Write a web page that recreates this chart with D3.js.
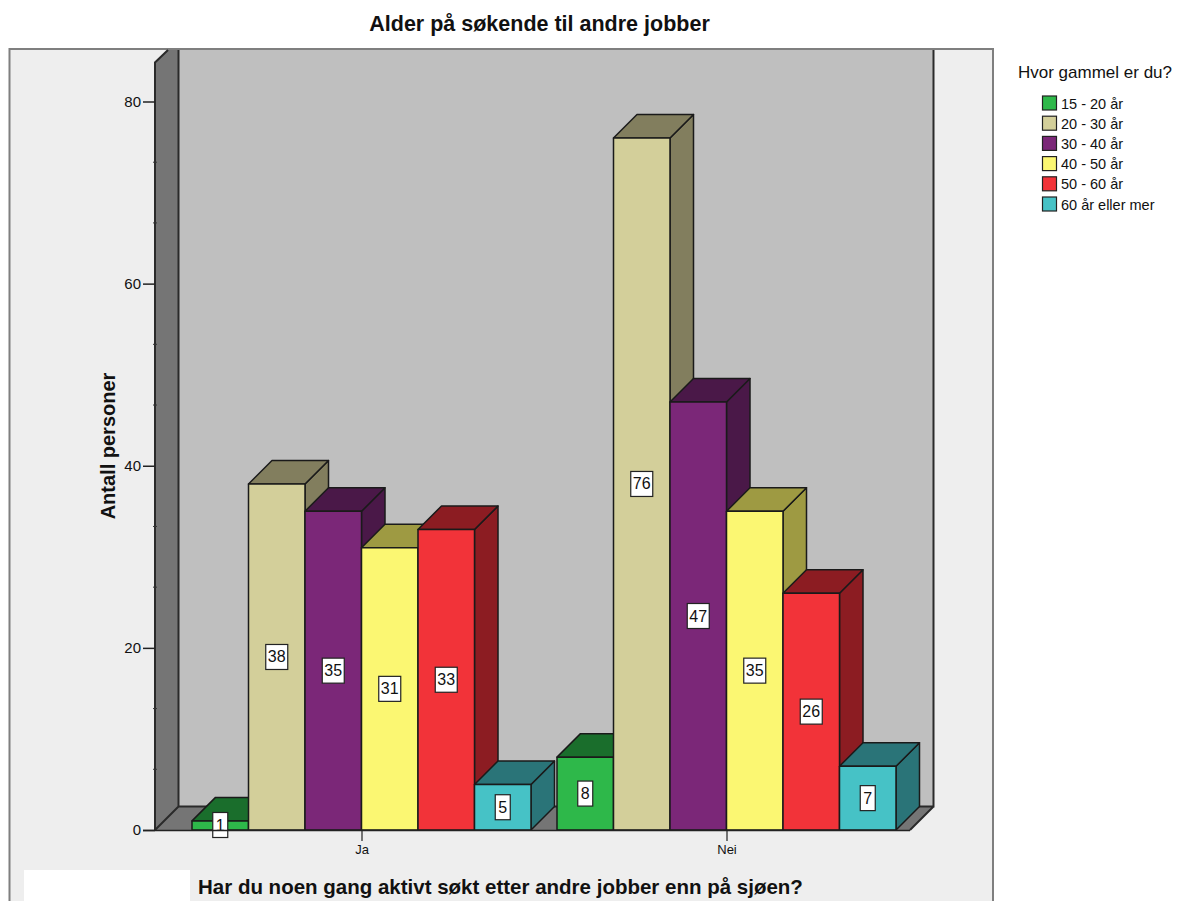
<!DOCTYPE html>
<html>
<head>
<meta charset="utf-8">
<script src="https://cdn.jsdelivr.net/npm/d3@7"></script>
<style>
html,body{margin:0;padding:0;background:#fff;}
svg{display:block;}
text{font-family:"Liberation Sans",Arial,sans-serif;fill:#111;}
</style>
</head>
<body>
<svg id="chart" width="1199" height="901"></svg>
<script>
// Values per answer group, one entry per age band
const groups = ["Ja", "Nei"];
const ageBands = ["15 - 20 år", "20 - 30 år", "30 - 40 år", "40 - 50 år", "50 - 60 år", "60 år eller mer"];
const jaValues = [1, 38, 35, 31, 33, 5];
const neiValues = [8, 76, 47, 35, 26, 7];
const yTicks = [0, 20, 40, 60, 80];
const yMinorTicks = [20 / 3, 40 / 3, 80 / 3, 100 / 3, 140 / 3, 160 / 3, 200 / 3, 220 / 3];
const frontColors = ["#2eb84a", "#d3cf9a", "#7b2778", "#fbf772", "#f23339", "#46c2c6"];
const shadeColors = ["#1a6e2c", "#827e5e", "#4a1848", "#9e9a42", "#8c1c22", "#2a7478"];

const svg = d3.select("#chart");

// Layout of the box: front floor edge, wall depth and bar depth
const floorY = 830, frontLeft = 155, frontRight = 910;
const wallDepth = 23.5, barDepth = 23.5, panelTop = 49;

const y = d3.scaleLinear().domain([0, 80]).range([floorY, 101.5]);
const groupX = d3.scalePoint().domain(groups).range([361.5, 726.5]);
const barX = d3.scaleBand().domain(ageBands).range([-169.5, 169.5]);
const front = d3.scaleOrdinal().domain(ageBands).range(frontColors);
const shade = d3.scaleOrdinal().domain(ageBands).range(shadeColors);
const valuesByGroup = new Map([["Ja", jaValues], ["Nei", neiValues]]);

const poly = pts => pts.map(p => p.join(",")).join(" ");

// Outer panel, clipped by the page bottom
svg.append("rect").attr("x", 9.5).attr("y", panelTop).attr("width", 983.5).attr("height", 870)
  .attr("fill", "#eeeeee").attr("stroke", "#7f7f7f").attr("stroke-width", 2);
svg.append("rect").attr("x", 24).attr("y", 870).attr("width", 166).attr("height", 31).attr("fill", "#fff");

// Back wall, side wall and floor
const backLeft = frontLeft + wallDepth, backRight = frontRight + wallDepth, backY = floorY - wallDepth;
svg.append("rect").attr("x", backLeft).attr("y", panelTop + 1).attr("width", backRight - backLeft).attr("height", backY - panelTop - 1)
  .attr("fill", "#bfbfbf");
svg.append("polygon")
  .attr("points", poly([[frontLeft, floorY], [frontLeft, panelTop + wallDepth - 10], [frontLeft + 13, panelTop + 1], [backLeft, panelTop + 1], [backLeft, backY]]))
  .attr("fill", "#757575");
svg.append("polygon")
  .attr("points", poly([[frontLeft, floorY], [frontRight, floorY], [backRight, backY], [backLeft, backY]]))
  .attr("fill", "#757575");
svg.append("path")
  .attr("d", `M${frontLeft},${floorY}V${panelTop + wallDepth - 10}L${frontLeft + 13},${panelTop + 1}`
    + `M${backLeft},${panelTop + 1}V${backY}H${backRight}V${panelTop + 1}`
    + `M${frontLeft},${floorY}L${backLeft},${backY}M${frontRight},${floorY}L${backRight},${backY}`)
  .attr("fill", "none").attr("stroke", "#2a2a2a").attr("stroke-width", 2);

// Bars, drawn left to right so each one overlaps the side of its neighbour
const bars = groups.flatMap(g => ageBands.map((band, i) => ({ g, band, value: valuesByGroup.get(g)[i] })));
const barG = svg.append("g").attr("stroke", "#1a1a1a").attr("stroke-width", 1.5).attr("stroke-linejoin", "round");
bars.forEach(d => {
  const x0 = groupX(d.g) + barX(d.band), x1 = x0 + barX.bandwidth(), top = y(d.value);
  barG.append("polygon")
    .attr("points", poly([[x1, floorY], [x1 + barDepth, floorY - barDepth], [x1 + barDepth, top - barDepth], [x1, top]]))
    .attr("fill", shade(d.band));
  barG.append("polygon")
    .attr("points", poly([[x0, top], [x0 + barDepth, top - barDepth], [x1 + barDepth, top - barDepth], [x1, top]]))
    .attr("fill", shade(d.band));
  barG.append("rect").attr("x", x0).attr("y", top).attr("width", x1 - x0).attr("height", floorY - top)
    .attr("fill", front(d.band));
});

// Value labels in white boxes at mid height of each bar
bars.forEach(d => {
  const cx = groupX(d.g) + barX(d.band) + barX.bandwidth() / 2;
  const cy = (y(d.value) + floorY) / 2 + (d.value === 1 ? 0 : 0);
  const w = d.value < 10 ? 15 : 22, h = 25;
  const labelY = Math.min(cy, floorY - 5);
  svg.append("rect").attr("x", cx - w / 2).attr("y", labelY - h / 2).attr("width", w).attr("height", h)
    .attr("fill", "#fff").attr("stroke", "#222").attr("stroke-width", 1.2);
  svg.append("text").attr("x", cx).attr("y", labelY + 5.5).attr("text-anchor", "middle")
    .attr("font-size", 16).text(d.value);
});

// Y axis with major and minor ticks
const yAxis = svg.append("g").attr("transform", `translate(${frontLeft},0)`)
  .call(d3.axisLeft(y).tickValues(yTicks).tickFormat(d3.format("d")).tickSize(12).tickPadding(2));
yAxis.select(".domain").remove();
yAxis.selectAll("line").attr("stroke", "#222").attr("stroke-width", 1.5);
yAxis.selectAll("text").attr("font-size", 15).style("font-family", '"Liberation Sans",Arial,sans-serif').attr("fill", "#111");
svg.append("g").selectAll("line").data(yMinorTicks).join("line")
  .attr("x1", frontLeft - 2).attr("x2", frontLeft + 2)
  .attr("y1", d => y(d)).attr("y2", d => y(d))
  .attr("stroke", "#333").attr("stroke-width", 1);

// Category axis
const xAxis = svg.append("g").attr("transform", `translate(0,${floorY})`)
  .call(d3.axisBottom(groupX).tickSize(11).tickPadding(4));
xAxis.select(".domain").attr("d", `M${frontLeft - 12},0.5H${frontRight}`).attr("stroke", "#222").attr("stroke-width", 1.5);
xAxis.selectAll("line").attr("stroke", "#222").attr("stroke-width", 1.2);
xAxis.selectAll("text").attr("font-size", 13).style("font-family", '"Liberation Sans",Arial,sans-serif').attr("fill", "#111");

// Titles
svg.append("text").attr("x", 539.5).attr("y", 31).attr("text-anchor", "middle")
  .attr("font-size", 21.5).attr("font-weight", "bold").text("Alder på søkende til andre jobber");
svg.append("text").attr("transform", "translate(115,446) rotate(-90)").attr("text-anchor", "middle")
  .attr("font-size", 20).attr("font-weight", "bold").text("Antall personer");
svg.append("text").attr("x", 198).attr("y", 894)
  .attr("font-size", 20.5).attr("font-weight", "bold").text("Har du noen gang aktivt søkt etter andre jobber enn på sjøen?");

// Legend
svg.append("text").attr("x", 1018).attr("y", 78).attr("font-size", 17).text("Hvor gammel er du?");
const legendY = d3.scalePoint().domain(ageBands).range([103, 204]);
const legend = svg.append("g").selectAll("g").data(ageBands).join("g")
  .attr("transform", d => `translate(1042,${legendY(d)})`);
legend.append("rect").attr("x", 0.5).attr("y", -7).attr("width", 14).attr("height", 14)
  .attr("fill", d => front(d)).attr("stroke", "#222").attr("stroke-width", 1.2);
legend.append("text").attr("x", 19).attr("y", 5.5).attr("font-size", 14.5).text(d => d);
</script>
</body>
</html>
